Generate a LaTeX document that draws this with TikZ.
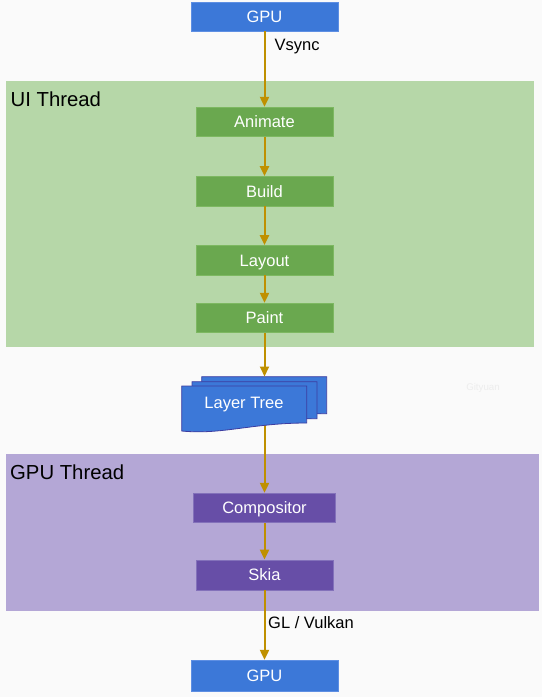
\documentclass[tikz,border=0pt]{standalone}
\usepackage{fontspec}
\setmainfont{Liberation Sans}
\usetikzlibrary{arrows.meta}
\definecolor{bgc}{HTML}{FAFAFA}
\definecolor{bluef}{HTML}{3C78D8}
\definecolor{blueb}{HTML}{5E8FE3}
\definecolor{greenf}{HTML}{6AA84F}
\definecolor{greenb}{HTML}{7DB861}
\definecolor{purplef}{HTML}{674EA7}
\definecolor{purpleb}{HTML}{8371BA}
\definecolor{greenarea}{HTML}{B6D7A8}
\definecolor{purplearea}{HTML}{B4A7D6}
\definecolor{arrowc}{HTML}{BF9000}
\definecolor{docdraw}{HTML}{3D3DA0}
\definecolor{wmc}{HTML}{EDEDED}
\begin{document}
\begin{tikzpicture}[x=1pt,y=-1pt,
  box/.style={draw, line width=0.8pt, inner sep=0pt, text=white,
    font=\fontsize{16.5}{20}\selectfont, minimum height=29.5pt,
    text height=11.8pt, text depth=0pt},
  bluebox/.style={box, fill=bluef, draw=blueb, minimum width=147pt},
  greenbox/.style={box, fill=greenf, draw=greenb, minimum width=137pt},
  purplebox/.style={box, fill=purplef, draw=purpleb},
  area/.style={inner sep=0pt, draw=none},
  arealabel/.style={inner sep=0pt, anchor=base west, text=black,
    font=\fontsize{20.3}{24}\selectfont},
  lbl/.style={inner sep=0pt, anchor=base west, text=black,
    font=\fontsize{16.5}{20}\selectfont},
  flow/.style={draw=arrowc, line width=2pt, -{Triangle[length=10pt,width=9pt]}},
  doc/.style={fill=bluef, draw=docdraw, line width=0.8pt}
]
\fill[bgc] (0,0) rectangle (542,697);
\useasboundingbox (0,0) rectangle (542,697);

% thread areas
\node[area, fill=greenarea, minimum width=528pt, minimum height=266pt] (ui) at (270,214) {};
\node[area, fill=purplearea, minimum width=533pt, minimum height=157pt] (gt) at (272.5,532.5) {};
\node[arealabel] (uil) at (10.5,106.7) {UI Thread};
\node[arealabel] (gtl) at (10,479) {GPU Thread};

% boxes
\node[bluebox, minimum height=29pt] (gpu1) at (264.5,16.5) {GPU};
\node[greenbox] (animate) at (264.5,122) {Animate};
\node[greenbox] (build) at (264.5,191.3) {Build};
\node[greenbox] (layout) at (264.5,260.3) {Layout};
\node[greenbox] (paint) at (264.5,318) {Paint};
\node[purplebox, minimum width=142pt] (comp) at (264.5,508) {Compositor};
\node[purplebox, minimum width=137pt, minimum height=30pt] (skia) at (264.5,575) {Skia};
\node[bluebox, minimum height=31.5pt] (gpu2) at (264.5,676) {GPU};

% layer tree (invisible frame of the stacked documents)
\node[area, minimum width=145.3pt, minimum height=55.3pt] (lt) at (254.35,404.35) {};

% connector from layer tree down (under the documents)
\draw[flow] (paint.south |- lt.center) -- (comp.north);

% stacked documents
\foreach \dx/\dy in {201.7/376.7, 192/381.7, 181.7/386}{
  \draw[doc] (\dx,\dy) -- ++(125,0) -- ++(0,37)
    .. controls (\dx+70,\dy+37) and (\dx+40,\dy+49) .. (\dx,\dy+45) -- cycle;
}
\node[inner sep=0pt, text=white, font=\fontsize{16.5}{20}\selectfont,
  text height=11.8pt, text depth=0pt] (ltl) at (244,402.5) {Layer Tree};

% watermark
\node[inner sep=0pt, text=wmc, font=\fontsize{9.7}{11}\selectfont] (wm) at (483,388) {Gityuan};

% connectors
\draw[flow] (gpu1) -- (animate);
\draw[flow] (animate) -- (build);
\draw[flow] (build) -- (layout);
\draw[flow] (layout) -- (paint);
\draw[flow] (paint) -- (paint.south |- lt.north);
\draw[flow] (comp) -- (skia);
\draw[flow] (skia) -- (gpu2);

% labels
\node[lbl] (vs) at (274.5,50.3) {Vsync};
\node[lbl] (glv) at (268,628.5) {GL / Vulkan};
\end{tikzpicture}
\end{document}
